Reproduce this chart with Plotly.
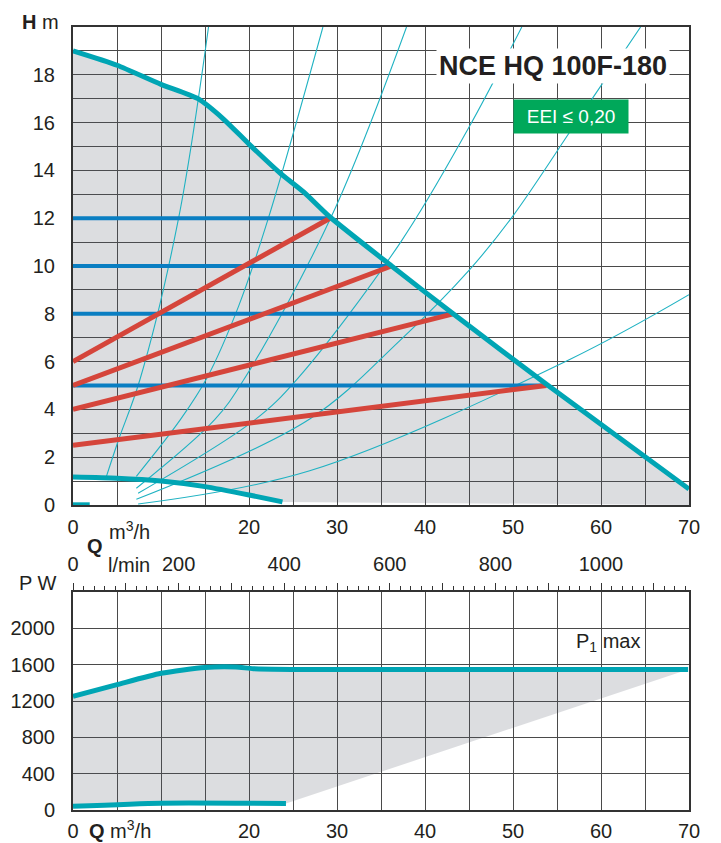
import plotly.graph_objects as go

# the page body has an 8 px margin; place everything relative to the photographed window
OFF = 8
W, H = 721, 843
def fx(p):
    return (p - OFF) / W
def fy(p):
    return 1 - (p - OFF) / H

FONT = "Liberation Sans, Arial, sans-serif"
TXT = "#231f20"
TEAL = "#00a5b4"
THIN = "#1fb2c2"
BLUE = "#0a7ec2"
RED = "#d5453b"
GRAYFILL = "rgba(80,85,100,0.2)"
GRID = "#4a4a4a"
GREEN = "#00a85a"

# ---------------- data: H-Q chart ----------------
q_max = [0, 5, 10, 14.2, 17.1, 20, 23.5, 26.2, 29.2, 36.2, 43.2, 53.8, 70]
h_max = [19.0, 18.4, 17.6, 17.0, 16.15, 15.1, 13.9, 13.1, 12.05, 10.0, 8.0, 5.05, 0.67]

q_min = [0, 5, 10, 15, 20, 23.8]
h_min = [1.17, 1.12, 1.0, 0.77, 0.42, 0.13]

q_stub = [0, 1.9]
h_stub = [0.05, 0.05]

h_set = [12, 10, 8, 5]
q_set = [29.2, 36.2, 43.2, 53.8]
h_red0 = [6.0, 5.0, 4.0, 2.5]

sys_q = [
    [3.8, 5.15, 7.6, 12.0, 15.4],
    [7.2, 12.2, 15.2, 18.8, 22.2, 28.4],
    [7.2, 16.1, 19.4, 29.4, 37.9],
    [7.4, 20.7, 25.4, 37.2, 44.9, 51.0],
    [7.2, 26.9, 37.2, 45.1, 50.0, 56.7, 60.1, 64.5],
    [7.4, 26.9, 56.5, 70.0],
]
sys_h = [
    [1.2, 2.7, 5.24, 12.0, 20.0],
    [1.2, 3.57, 5.3, 8.3, 12.0, 20.0],
    [0.7, 3.57, 5.24, 12.1, 20.0],
    [0.49, 3.57, 5.24, 10.98, 15.74, 20.0],
    [0.24, 3.6, 6.9, 9.86, 12.1, 15.74, 17.6, 20.0],
    [0.04, 1.43, 6.1, 8.8],
]

# ---------------- data: P-Q chart ----------------
q_p1 = [0, 5, 10, 15, 18.5, 20.5, 25, 45, 69.9]
p1 = [1250, 1380, 1505, 1570, 1575, 1555, 1548, 1547, 1547]
q_p2 = [0, 10, 24.2]
p2 = [40, 75, 72]

# ---------------- axis ticks ----------------
Q_MAX = 70
H_MAX = 20
P_MAX = 2400
LMIN_PER_M3H = 1000 / 60
q_labels = [0, 20, 30, 40, 50, 60, 70]
h_labels = [0, 2, 4, 6, 8, 10, 12, 14, 16, 18]
p_labels = [0, 400, 800, 1200, 1600, 2000]
lmin_labels = [0, 200, 400, 600, 800, 1000]
lmin_mid = [100, 300, 500, 700, 900, 1100]

fig = go.Figure()

# gray area H-Q
fill_x = q_max + [Q_MAX] + q_min[::-1]
fill_y = h_max + [0] + h_min[::-1]
fig.add_trace(go.Scatter(x=fill_x, y=fill_y, xaxis="x", yaxis="y", mode="lines",
                         fill="toself", fillcolor=GRAYFILL, line=dict(width=0),
                         hoverinfo="skip", showlegend=False))
# system curves
for qs, hs in zip(sys_q, sys_h):
    fig.add_trace(go.Scatter(x=qs, y=hs, xaxis="x", yaxis="y", mode="lines",
                             line=dict(color=THIN, width=1.1, shape="spline", smoothing=1.0),
                             showlegend=False))
# blue constant pressure lines
for h, q in zip(h_set, q_set):
    fig.add_trace(go.Scatter(x=[0, q], y=[h, h], xaxis="x", yaxis="y", mode="lines",
                             line=dict(color=BLUE, width=4), showlegend=False))
# red proportional pressure lines
for h0, h, q in zip(h_red0, h_set, q_set):
    fig.add_trace(go.Scatter(x=[0, q], y=[h0, h], xaxis="x", yaxis="y", mode="lines",
                             line=dict(color=RED, width=5), showlegend=False))
# max / min curves
fig.add_trace(go.Scatter(x=q_max, y=h_max, xaxis="x", yaxis="y", mode="lines",
                         line=dict(color=TEAL, width=5, shape="spline", smoothing=0.6),
                         showlegend=False))
fig.add_trace(go.Scatter(x=q_min, y=h_min, xaxis="x", yaxis="y", mode="lines",
                         line=dict(color=TEAL, width=5, shape="spline", smoothing=0.6),
                         showlegend=False))
fig.add_trace(go.Scatter(x=q_stub, y=h_stub, xaxis="x", yaxis="y", mode="lines",
                         line=dict(color=TEAL, width=3), showlegend=False))

# gray area P-Q
pfill_x = q_p1 + q_p2[::-1]
pfill_y = p1 + p2[::-1]
fig.add_trace(go.Scatter(x=pfill_x, y=pfill_y, xaxis="x2", yaxis="y2", mode="lines",
                         fill="toself", fillcolor=GRAYFILL, line=dict(width=0),
                         hoverinfo="skip", showlegend=False))
fig.add_trace(go.Scatter(x=q_p1, y=p1, xaxis="x2", yaxis="y2", mode="lines",
                         line=dict(color=TEAL, width=5, shape="spline", smoothing=0.6),
                         showlegend=False))
fig.add_trace(go.Scatter(x=q_p2, y=p2, xaxis="x2", yaxis="y2", mode="lines",
                         line=dict(color=TEAL, width=5, shape="spline", smoothing=0.6),
                         showlegend=False))
# invisible traces to carry the l/min axes
for ax in ("x3", "x4"):
    fig.add_trace(go.Scatter(x=[0, Q_MAX * LMIN_PER_M3H], y=[0, 0], xaxis=ax, yaxis="y2",
                             mode="lines", line=dict(width=0), hoverinfo="skip",
                             showlegend=False))

tfont = dict(family=FONT, size=20, color=TXT)
axis_common = dict(showgrid=True, gridcolor=GRID, gridwidth=1, zeroline=False,
                   showline=True, mirror=True, linecolor="#333333", linewidth=2,
                   ticks="", automargin=False, tickfont=tfont, tickmode="array")

fig.update_layout(
    width=W, height=H, margin=dict(l=0, r=0, t=0, b=0, autoexpand=False),
    paper_bgcolor="white", plot_bgcolor="white", showlegend=False,
    xaxis=dict(domain=[fx(73), fx(689)], range=[0, Q_MAX], anchor="y",
               tickvals=q_labels, ticklabelstandoff=3,
               minor=dict(dtick=5, tick0=0, showgrid=True, gridcolor=GRID, gridwidth=1, ticks=""),
               **axis_common),
    yaxis=dict(domain=[fy(505), fy(27)], range=[0, H_MAX], anchor="x",
               tickvals=h_labels, ticklabelstandoff=12,
               minor=dict(dtick=1, tick0=0, showgrid=True, gridcolor=GRID, gridwidth=1, ticks=""),
               **axis_common),
    xaxis2=dict(domain=[fx(73), fx(689)], range=[0, Q_MAX], anchor="y2",
                tickvals=q_labels, ticklabelstandoff=2,
                minor=dict(dtick=5, tick0=0, showgrid=True, gridcolor=GRID, gridwidth=1, ticks=""),
                **axis_common),
    yaxis2=dict(domain=[fy(810), fy(592)], range=[0, P_MAX], anchor="x2",
                tickvals=p_labels, ticklabelstandoff=12,
                minor=dict(dtick=400, tick0=0, showgrid=True, gridcolor=GRID, gridwidth=1, ticks=""),
                **axis_common),
    xaxis3=dict(overlaying="x2", side="top", anchor="y2", range=[0, Q_MAX * LMIN_PER_M3H],
                tickmode="array", tickvals=lmin_labels,
                showgrid=False, zeroline=False, showline=False, automargin=False,
                ticks="outside", ticklen=8, tickcolor="#333333", tickwidth=1,
                minor=dict(dtick=20, tick0=0, ticks="outside", ticklen=5,
                           tickcolor="#333333", tickwidth=1, showgrid=False),
                ticklabelstandoff=4, tickfont=tfont),
    xaxis4=dict(overlaying="x2", side="top", anchor="y2", range=[0, Q_MAX * LMIN_PER_M3H],
                tickmode="array", tickvals=lmin_mid, showticklabels=False,
                showgrid=False, zeroline=False, showline=False, automargin=False,
                ticks="outside", ticklen=8, tickcolor="#333333", tickwidth=1),
)

def ann(text, x, y, size=20, family=FONT, xanchor="center", yanchor="middle", **kw):
    fig.add_annotation(text=text, x=fx(x), y=fy(y), xref="paper", yref="paper",
                       showarrow=False, xanchor=xanchor, yanchor=yanchor,
                       font=dict(family=family, size=size, color=kw.pop("color", TXT)), **kw)

ann("<b>H</b> m", 20, 22, xanchor="left")
ann("P W", 17, 583, xanchor="left")
ann("<b>Q</b>", 95, 546)
ann("m<sup>3</sup>/h", 107, 530, xanchor="left")
ann("l/min", 106, 565, xanchor="left")
ann("<b>Q</b> m<sup>3</sup>/h", 87, 829, xanchor="left")
ann("P<sub>1</sub> max", 608, 642)
ann("<b>NCE HQ 100F-180</b>", 553, 66, size=27, bgcolor="white", borderpad=2)
ann("EEI ≤ 0,20", 570.5, 116, size=19, color="white",
    bgcolor=GREEN, width=110, height=29, borderpad=2)

fig.write_html("out.html")
